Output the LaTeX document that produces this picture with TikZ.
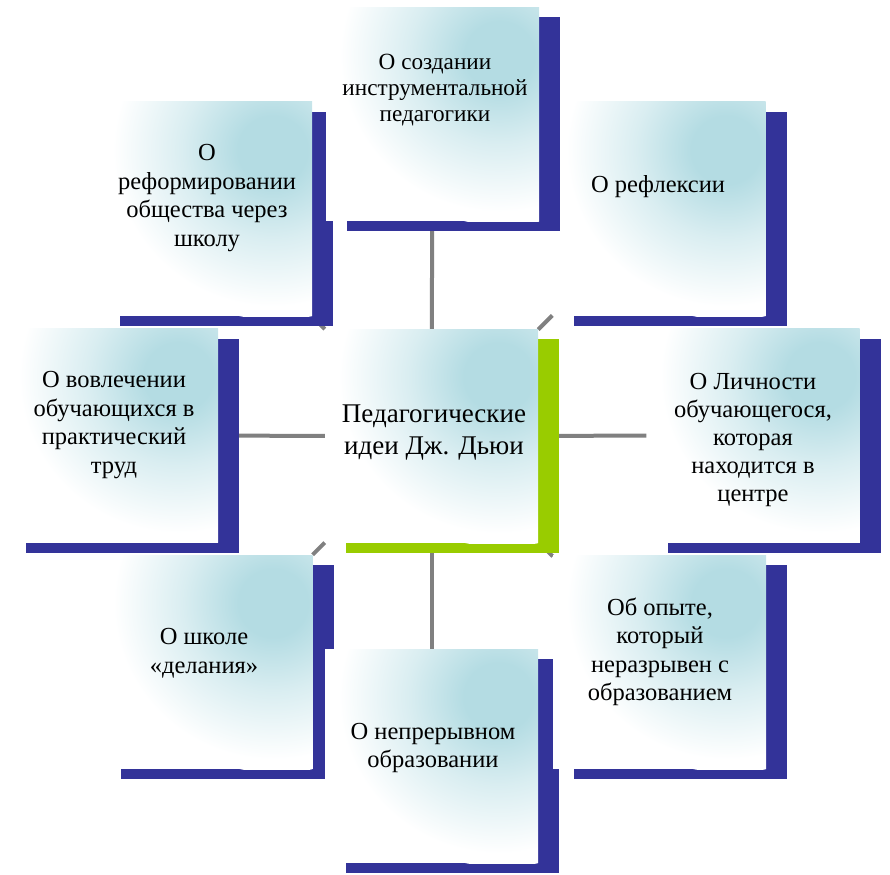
\documentclass[tikz,border=0pt]{standalone}
\usepackage{fontspec}
\setmainfont{Liberation Serif}
\usetikzlibrary{shadows,backgrounds}
\definecolor{boxteal}{RGB}{180,220,227}
\definecolor{shadowblue}{RGB}{51,51,153}
\definecolor{centergreen}{RGB}{153,204,0}
\definecolor{linkgray}{RGB}{128,128,128}
\colorlet{midteal}{boxteal!50!white}
\pgfdeclareradialshading{tealspot}{\pgfpointorigin}{color(0bp)=(boxteal); color(5bp)=(boxteal); color(13bp)=(midteal); color(23bp)=(white); color(25bp)=(white); color(50bp)=(white)}
\tikzset{
  basebox/.style={rectangle, inner sep=0pt, minimum width=213pt, minimum height=214pt, fill=white,
    path picture={\shade[shading=tealspot] ([shift={(-36pt,-48pt)}]path picture bounding box.north east) circle (170pt);}},
  ideabox/.style={basebox, general shadow={fill=shadowblue, shadow xshift=21pt, shadow yshift=-10pt}},
  centerbox/.style={basebox, general shadow={fill=centergreen, shadow xshift=21pt, shadow yshift=-10pt}},
  ideatext/.style={align=center, inner sep=0pt, text=black, font=\fontsize{24.5}{28.5}\selectfont},
  link/.style={draw=linkgray, line width=4pt},
}
\begin{document}
\begin{tikzpicture}[x=1pt,y=-1pt]
\useasboundingbox (0,0) rectangle (890,874);
% boxes (drawing order matters for overlapping shadows)
\node[ideabox] (tr) at (659,209) {};
\node[ideabox] (tl) at (205.5,209) {};
\node[ideabox] (t) at (432.5,114.5) {};
\node[ideabox] (r) at (753,435.5) {};
\node[ideabox] (l) at (111.5,435.5) {};
\node[ideabox] (bl) at (206,662) {};
\node[ideabox] (b) at (431.5,756) {};
\node[ideabox] (br) at (659.5,662) {};
\node[centerbox] (c) at (431.5,436) {};
% texts
\node[ideatext, font=\fontsize{23.2}{26}\selectfont] (tt) at (435,90) {О создании\\инструментальной\\педагогики};
\node[ideatext] (trt) at (658,187) {О рефлексии};
\node[ideatext, font=\fontsize{24.5}{27.8}\selectfont] (rt) at (753,440) {О Личности\\обучающегося,\\которая\\находится в\\центре};
\node[ideatext] (brt) at (660,652) {Об опыте,\\который\\неразрывен с\\образованием};
\node[ideatext] (bt) at (433,748) {О непрерывном\\образовании};
\node[ideatext] (blt) at (204,653) {О школе\\«делания»};
\node[ideatext] (lt) at (114,425) {О вовлечении\\обучающихся в\\практический\\труд};
\node[ideatext] (tlt) at (207,198) {О\\реформировании\\общества через\\школу};
\node[ideatext, font=\fontsize{27}{32}\selectfont] (ct) at (434,433) {Педагогические\\идеи Дж. Дьюи};
% connectors behind everything
\begin{scope}[on background layer]
\draw[link] (c) -- (t);
\draw[link] (c) -- (tr);
\draw[link] (c) -- (r);
\draw[link] (c) -- (br);
\draw[link] (c) -- (b);
\draw[link] (c) -- (bl);
\draw[link] (c) -- (l);
\draw[link] (c) -- (tl);
\end{scope}
\end{tikzpicture}
\end{document}
